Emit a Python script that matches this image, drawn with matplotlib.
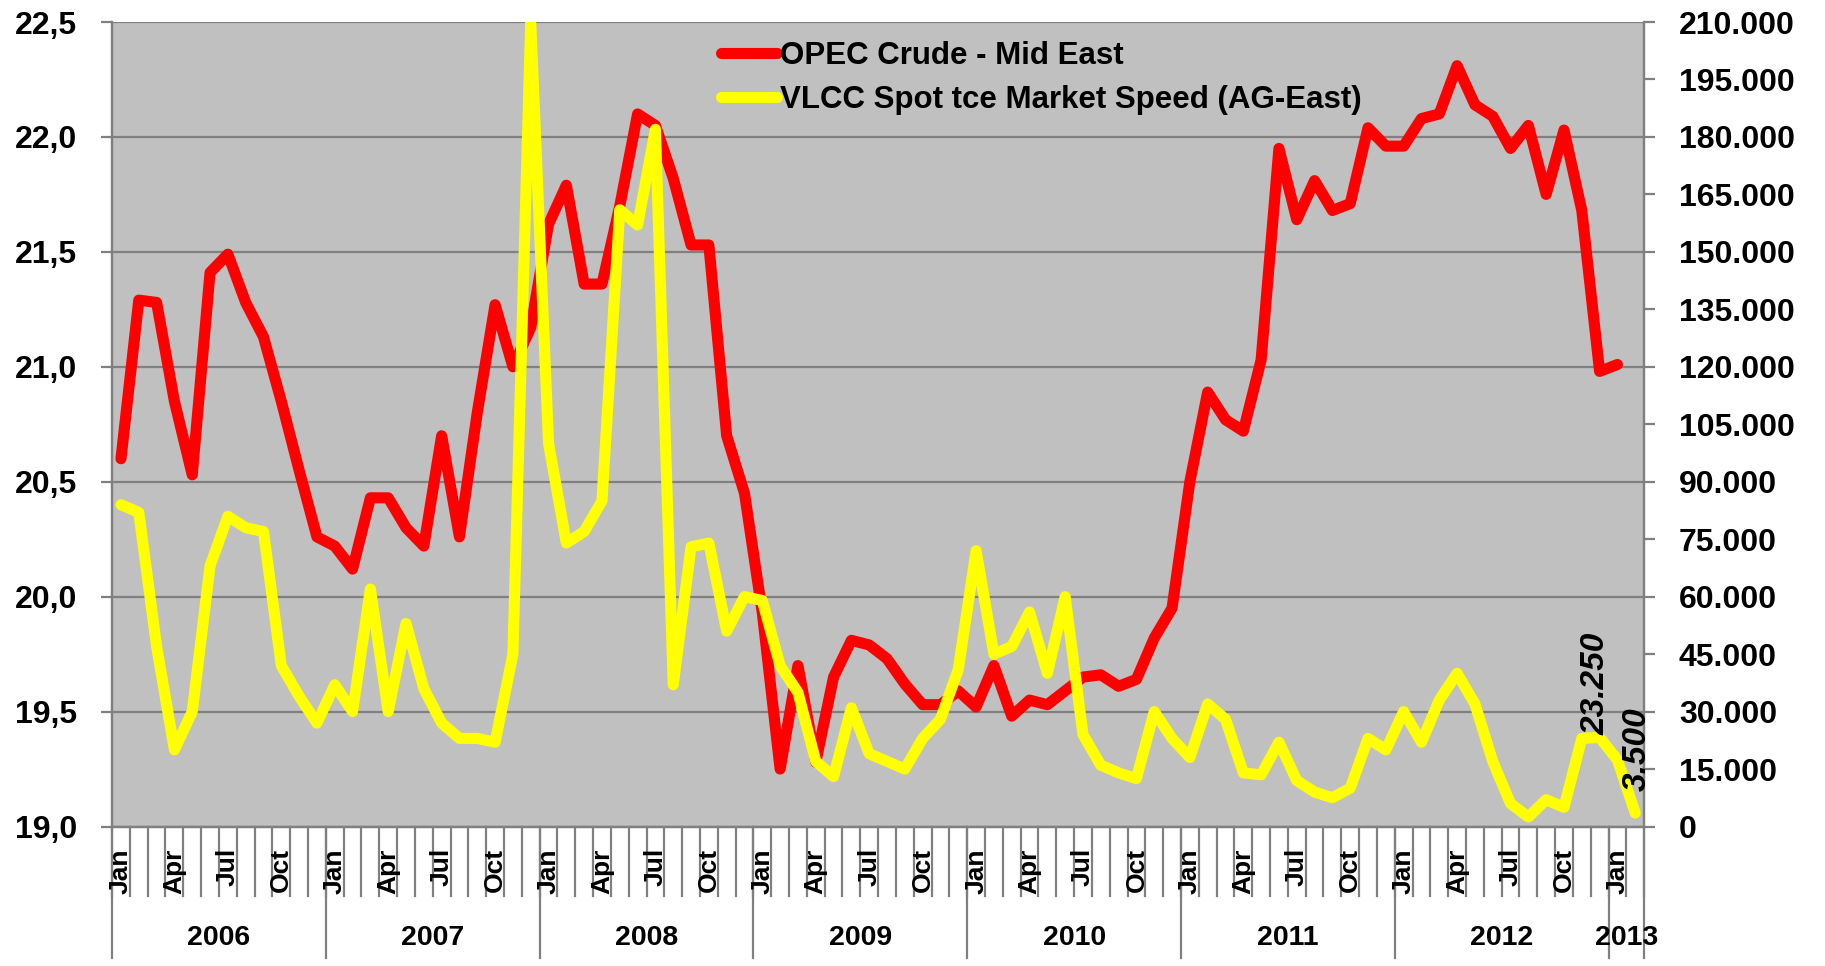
import matplotlib
matplotlib.use("Agg")
import matplotlib.pyplot as plt
from matplotlib.ticker import FuncFormatter, MultipleLocator

plt.rcParams['font.family'] = ['Liberation Sans', 'DejaVu Sans']
plt.rcParams['font.weight'] = 'bold'

# dados (Jan 2006 .. Fev 2013)
years = [2006, 2007, 2008, 2009, 2010, 2011, 2012, 2013]
month_names = ["Jan", "Feb", "Mar", "Apr", "May", "Jun",
               "Jul", "Aug", "Sep", "Oct", "Nov", "Dec"]
months_per_year = [12, 12, 12, 12, 12, 12, 12, 2]

# OPEC Crude - Mid East (eixo esquerdo), até Jan 2013
opec = [20.60, 21.29, 21.28, 20.85, 20.53, 21.41, 21.49, 21.28, 21.13, 20.85, 20.55, 20.26,
        20.22, 20.12, 20.43, 20.43, 20.30, 20.22, 20.70, 20.26, 20.80, 21.27, 21.00, 21.17,
        21.62, 21.79, 21.36, 21.36, 21.70, 22.10, 22.05, 21.82, 21.53, 21.53, 20.70, 20.45,
        19.93, 19.25, 19.70, 19.28, 19.65, 19.81, 19.79, 19.73, 19.62, 19.53, 19.53, 19.59,
        19.52, 19.70, 19.48, 19.55, 19.53, 19.59, 19.65, 19.66, 19.61, 19.64, 19.82, 19.95,
        20.50, 20.89, 20.77, 20.72, 21.03, 21.95, 21.64, 21.81, 21.68, 21.71, 22.04, 21.96,
        21.96, 22.08, 22.10, 22.31, 22.14, 22.09, 21.95, 22.05, 21.75, 22.03, 21.68, 20.98,
        21.01]

# VLCC Spot tce Market Speed (AG-East) (eixo direito), até Fev 2013
vlcc = [84000, 82000, 47000, 20000, 30000, 68000, 81000, 78000, 77000, 42000, 34000, 27000,
        37000, 30000, 62000, 30000, 53000, 36000, 27000, 23000, 23000, 22000, 45000, 210000,
        100000, 74000, 77000, 85000, 161000, 157000, 182000, 37000, 73000, 74000, 51000, 60000,
        59000, 42000, 35000, 17000, 13000, 31000, 19000, 17000, 15000, 23000, 28000, 41000,
        72000, 45000, 47000, 56000, 40000, 60000, 24000, 16000, 14000, 12500, 30000, 23000,
        18000, 32000, 28000, 14000, 13500, 22000, 12000, 9000, 7500, 10000, 23000, 20000,
        30000, 22000, 33000, 40000, 32000, 17000, 6000, 2500, 7000, 5000, 23000, 23250,
        17400, 3500]

labelled = {83: "23.250", 85: "3.500"}

RED = "#FF0000"
YELLOW = "#FFFF00"
GRID = "#808080"

fig = plt.figure(figsize=(18.25, 9.66), dpi=100)
ax = fig.add_axes([0.0614, 0.1444, 0.8395, 0.8328])
ax2 = ax.twinx()

ax.set_facecolor("#C0C0C0")
ax2.patch.set_visible(False)

x_opec = [i + 0.5 for i in range(len(opec))]
x_vlcc = [i + 0.5 for i in range(len(vlcc))]

ax.plot(x_opec, opec, color=RED, lw=8, solid_joinstyle="round",
        solid_capstyle="round", label="OPEC Crude - Mid East", zorder=3)
ax2.plot(x_vlcc, vlcc, color=YELLOW, lw=8, solid_joinstyle="round",
         solid_capstyle="round", label="VLCC Spot tce Market Speed (AG-East)", zorder=3)

n_months = sum(months_per_year)
ax.set_xlim(0, n_months)
ax.set_ylim(19.0, 22.5)
ax2.set_ylim(0, 210000)
ax.yaxis.set_major_locator(MultipleLocator(0.5))
ax2.yaxis.set_major_locator(MultipleLocator(15000))
ax.yaxis.set_major_formatter(FuncFormatter(lambda v, p: f"{v:.1f}".replace(".", ",")))
ax2.yaxis.set_major_formatter(FuncFormatter(lambda v, p: f"{int(round(v)):,}".replace(",", ".")))

ax.grid(axis="y", color=GRID, lw=1.6)
ax.set_axisbelow(True)
ax.set_xticks([])
ax2.set_xticks([])

for a in (ax, ax2):
    for s in a.spines.values():
        s.set_color(GRID)
        s.set_linewidth(1.6)
    a.spines["top"].set_visible(False)
ax.tick_params(axis="y", length=8, width=1.6, color=GRID, labelsize=23, pad=17)
ax2.tick_params(axis="y", length=8, width=1.6, color=GRID, labelsize=23, pad=17)
for t in ax.get_yticklabels() + ax2.get_yticklabels():
    t.set_fontweight("bold")

# eixo de categorias em dois níveis (mês / ano)
trans = ax.get_xaxis_transform()
for b in range(n_months + 1):
    ax.plot([b, b], [0, -0.087], transform=trans, color=GRID, lw=1.6, clip_on=False)
pos = 0
for yr, nm in zip(years, months_per_year):
    ax.plot([pos, pos], [0, -0.1635], transform=trans, color=GRID, lw=1.6, clip_on=False)
    for m in range(nm):
        if m % 3 == 0:
            ax.text(pos + m + 0.5, -0.027, month_names[m], transform=trans, rotation=90,
                    ha="center", va="top", fontsize=19, fontweight="bold")
    ax.text(pos + nm / 2, -0.1386, str(yr), transform=trans, ha="center", va="center",
            fontsize=20.5, fontweight="bold")
    pos += nm
ax.plot([pos, pos], [0, -0.1635], transform=trans, color=GRID, lw=1.6, clip_on=False)

# rótulos de dados (deslocamento em pixels acima do ponto)
label_offset = {83: (-4, 2), 85: (2, 22)}
for i, txt in labelled.items():
    ax2.annotate(txt, (x_vlcc[i], vlcc[i]), xytext=label_offset[i], textcoords="offset pixels",
                 rotation=90, ha="center", va="bottom", fontsize=24,
                 fontweight="bold", fontstyle="italic", zorder=5)

h1, l1 = ax.get_legend_handles_labels()
h2, l2 = ax2.get_legend_handles_labels()
leg = ax2.legend(h1 + h2, l1 + l2, loc="upper left", bbox_to_anchor=(0.385, 1.0),
                 frameon=False, fontsize=22.5, handlelength=1.8, handletextpad=0.1,
                 labelspacing=0.45, borderaxespad=0.2)
for t in leg.get_texts():
    t.set_fontweight("bold")

fig.savefig("out.png", dpi=100)
